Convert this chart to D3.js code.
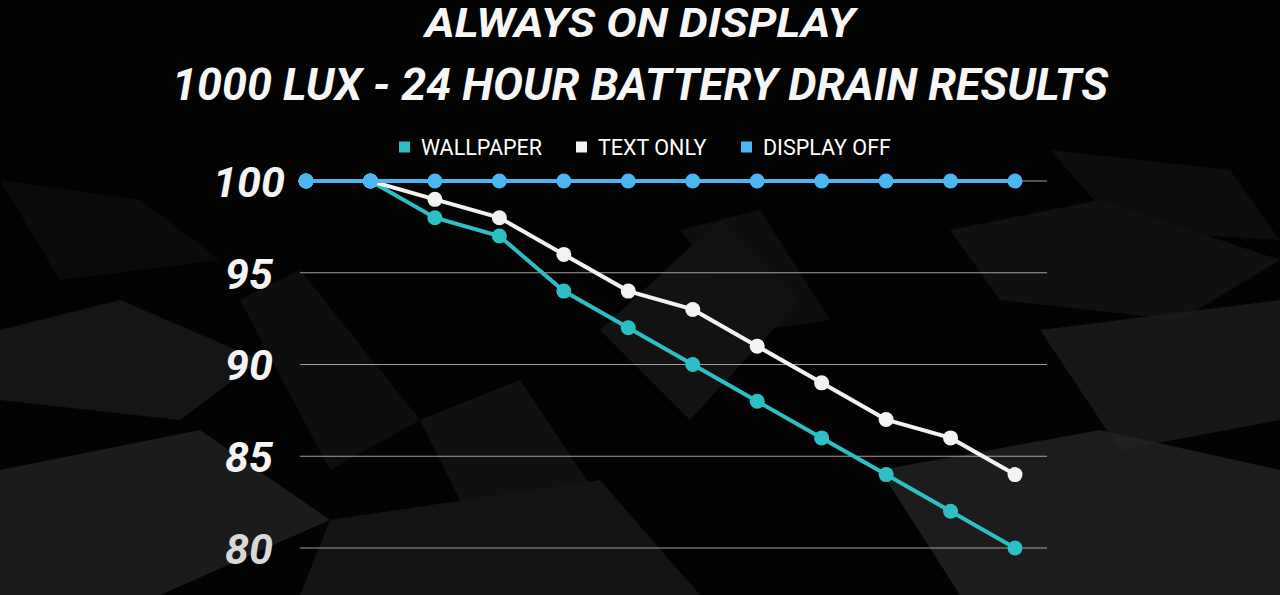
<!DOCTYPE html>
<html>
<head>
<meta charset="utf-8">
<script src="https://cdn.jsdelivr.net/npm/d3@7"></script>
<style>
  html, body { margin: 0; padding: 0; background: #000; }
  svg { display: block; }
</style>
</head>
<body>
<svg class="chart"></svg>
<script>
// Datos
var hours = ["0", "2", "4", "6", "8", "10", "12", "14", "16", "18", "20", "22"];
var wallpaper = [100, 100, 98, 97, 94, 92, 90, 88, 86, 84, 82, 80];
var textOnly = [100, 100, 99, 98, 96, 94, 93, 91, 89, 87, 86, 84];
var displayOff = [100, 100, 100, 100, 100, 100, 100, 100, 100, 100, 100, 100];
var yTicks = [80, 85, 90, 95, 100];

var seriesNames = ["WALLPAPER", "TEXT ONLY", "DISPLAY OFF"];
var seriesColors = ["#2dbfc5", "#f2f2f2", "#4cb6f2"];

var width = 1280, height = 595;

var svg = d3.select(".chart")
    .attr("width", width)
    .attr("height", height);

// Fondo oscuro con textura poligonal suave
var bg = svg.append("g");
bg.append("rect").attr("width", width).attr("height", height).attr("fill", "#030303");
var shards = [
  [[0, 330], [120, 300], [260, 360], [180, 420], [0, 400]],
  [[0, 470], [200, 430], [330, 520], [160, 595], [0, 595]],
  [[240, 300], [300, 270], [420, 420], [330, 470]],
  [[600, 330], [720, 220], [800, 300], [690, 420]],
  [[680, 230], [760, 210], [830, 320], [760, 330]],
  [[950, 230], [1100, 200], [1280, 260], [1180, 320], [1000, 300]],
  [[1040, 330], [1280, 300], [1280, 420], [1120, 450]],
  [[880, 470], [1100, 430], [1280, 470], [1280, 595], [960, 595]],
  [[330, 520], [600, 480], [700, 595], [300, 595]],
  [[0, 180], [140, 200], [220, 260], [60, 280]],
  [[1050, 150], [1230, 170], [1280, 240], [1120, 230]],
  [[420, 420], [520, 380], [600, 500], [480, 540]]
];
var shardFill = ["#1a1a1a", "#222", "#121212", "#161616", "#121212", "#141414", "#1c1c1c", "#232323", "#181818", "#0e0e0e", "#101010", "#141414"];
bg.selectAll("polygon")
    .data(shards)
  .enter().append("polygon")
    .attr("points", function(d) { return d.map(function(p) { return p.join(","); }).join(" "); })
    .attr("fill", function(d, i) { return shardFill[i]; })
    .attr("opacity", 0.8);

// Títulos
svg.append("text")
    .attr("x", 640).attr("y", 37)
    .attr("text-anchor", "middle")
    .attr("fill", "#f6f6f6")
    .attr("textLength", 430)
    .attr("lengthAdjust", "spacingAndGlyphs")
    .style("font", "italic bold 41px Roboto, 'Open Sans', sans-serif")
    .text("ALWAYS ON DISPLAY");
svg.append("text")
    .attr("x", 640).attr("y", 100)
    .attr("text-anchor", "middle")
    .attr("fill", "#f6f6f6")
    .attr("textLength", 936)
    .attr("lengthAdjust", "spacingAndGlyphs")
    .style("font", "italic bold 45px Roboto, 'Open Sans', sans-serif")
    .text("1000 LUX - 24 HOUR BATTERY DRAIN RESULTS");

// Escalas
var x = d3.scalePoint()
    .domain(hours)
    .range([306, 1015]);

var y = d3.scaleLinear()
    .domain([80, 100])
    .range([548, 181]);

// Rejilla
svg.append("g")
    .selectAll("line")
    .data(yTicks)
  .enter().append("line")
    .attr("x1", 300).attr("x2", 1047)
    .attr("y1", function(d) { return y(d); })
    .attr("y2", function(d) { return y(d); })
    .attr("stroke", "#a0a0a0")
    .attr("stroke-width", 1.2);

// Eje Y
var yAxis = svg.append("g")
    .attr("transform", "translate(249,0)")
    .call(d3.axisLeft(y).tickValues(yTicks).tickSize(0).tickPadding(0));
yAxis.select(".domain").remove();
yAxis.selectAll("text")
    .attr("text-anchor", "middle")
    .attr("dy", "0.36em")
    .attr("fill", function(d) { return d === 80 ? "#d8d8d8" : "#f4f4f4"; })
    .style("font", "italic bold 43px Roboto, 'Open Sans', sans-serif");

// Series
var series = [wallpaper, textOnly, displayOff];
var line = d3.line()
    .x(function(d, i) { return x(hours[i]); })
    .y(function(d) { return y(d); });

series.forEach(function(vals, s) {
  var g = svg.append("g");
  g.append("path")
      .datum(vals)
      .attr("d", line)
      .attr("fill", "none")
      .attr("stroke", seriesColors[s])
      .attr("stroke-width", 4);
  g.selectAll("circle")
      .data(vals)
    .enter().append("circle")
      .attr("cx", function(d, i) { return x(hours[i]); })
      .attr("cy", function(d) { return y(d); })
      .attr("r", 7.5)
      .attr("fill", seriesColors[s]);
});

// Leyenda
var legendX = [399, 576, 741];
var legend = svg.append("g")
    .selectAll("g")
    .data(seriesNames)
  .enter().append("g")
    .attr("transform", function(d, i) { return "translate(" + legendX[i] + ",147)"; });
legend.append("rect")
    .attr("x", 0).attr("y", -5.5)
    .attr("width", 11).attr("height", 11)
    .attr("fill", function(d, i) { return seriesColors[i]; });
legend.append("text")
    .attr("x", 22).attr("y", 0)
    .attr("dy", "0.36em")
    .attr("fill", "#fff")
    .style("font", "21.5px Roboto, sans-serif")
    .text(function(d) { return d; });
</script>
</body>
</html>
